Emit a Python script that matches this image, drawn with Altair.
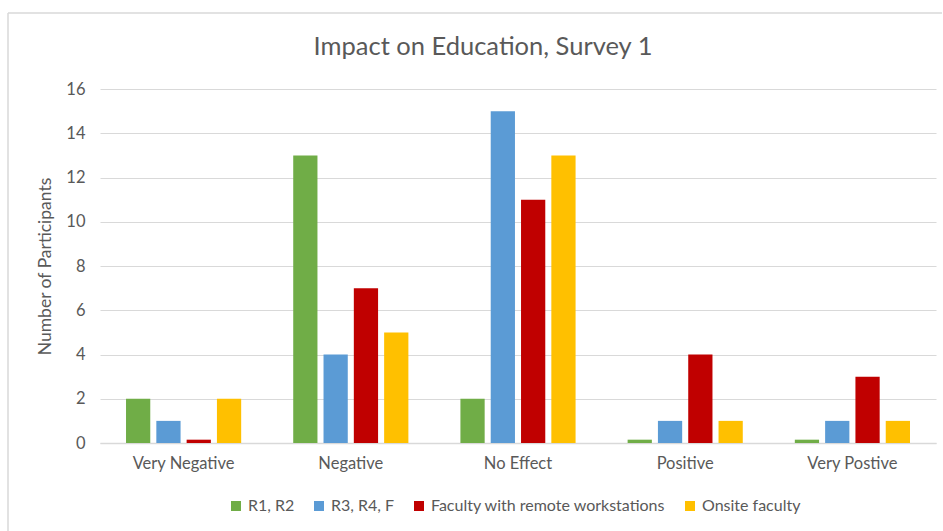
import altair as alt
import pandas as pd

# Survey responses per rating category
categories = ["Very Negative", "Negative", "No Effect", "Positive", "Very Postive"]
groups = ["R1, R2", "R3, R4, F", "Faculty with remote workstations", "Onsite faculty"]
r1_r2 = [2, 13, 2, 0.15, 0.15]
r3_r4_f = [1, 4, 15, 1, 1]
faculty_remote = [0.15, 7, 11, 4, 3]
onsite_faculty = [2, 5, 13, 1, 1]
colors = ["#70AD47", "#5B9BD5", "#C00000", "#FFC000"]
chart_title = ["Impact on Education, Survey 1"]

series = [r1_r2, r3_r4_f, faculty_remote, onsite_faculty]
rows = []
for g, vals in zip(groups, series):
    for c, v in zip(categories, vals):
        rows.append({"Rating": c, "Group": g, "Count": v})
df = pd.DataFrame(rows)

FONT = "Lato"
TEXT = "#595959"
GRID = "#d9d9d9"

bars = alt.Chart(df).mark_bar().encode(
    x=alt.X(
        "Rating:N",
        sort=categories,
        scale=alt.Scale(paddingInner=0.275, paddingOuter=0.1375),
        axis=alt.Axis(
            title=None, labelAngle=0, domainColor=GRID, domainWidth=1.5,
            ticks=False, labelFontSize=16.5, labelColor=TEXT, labelPadding=12,
            grid=False,
        ),
    ),
    xOffset=alt.XOffset(
        "Group:N", sort=groups,
        scale=alt.Scale(paddingInner=0.2, paddingOuter=0.1),
    ),
    y=alt.Y(
        "Count:Q",
        scale=alt.Scale(domain=[0, 16], nice=False),
        axis=alt.Axis(
            values=list(range(0, 17, 2)), title="Number of Participants",
            titleFontSize=17.5, titleFontWeight="normal", titleColor=TEXT,
            titlePadding=11, labelFontSize=16.5, labelColor=TEXT,
            labelPadding=15, domain=False, ticks=False,
            gridColor=GRID, gridWidth=1.2,
        ),
    ),
    color=alt.Color(
        "Group:N", sort=groups,
        scale=alt.Scale(domain=groups, range=colors),
        legend=alt.Legend(
            title=None, orient="none", direction="horizontal",
            legendX=128, legendY=409, symbolType="square", symbolSize=100,
            symbolStrokeWidth=0, labelFontSize=16, labelColor=TEXT,
            columnPadding=16, labelOffset=4, labelLimit=500,
        ),
    ),
)

# Chart heading drawn as a text mark above the plot area
heading = alt.Chart(pd.DataFrame({"t": chart_title})).mark_text(
    fontSize=25.5, font=FONT, color=TEXT, align="center", baseline="middle"
).encode(text="t:N", x=alt.value(383), y=alt.value(-42))

# Light chart-area frame along the top and left edges
frame_df = pd.DataFrame({"k": [0]})
top_edge = alt.Chart(frame_df).mark_rule(color=GRID, strokeWidth=1.5).encode(
    x=alt.value(-92), x2=alt.value(842), y=alt.value(-76)
)
left_edge = alt.Chart(frame_df).mark_rule(color=GRID, strokeWidth=1.5).encode(
    x=alt.value(-92), y=alt.value(-76), y2=alt.value(460)
)

chart = alt.layer(top_edge, left_edge, heading, bars).properties(
    width=836,
    height=354,
    autosize=alt.AutoSizeParams(type="none"),
    padding={"left": 100, "top": 89, "right": 7, "bottom": 88},
).configure(font=FONT).configure_view(stroke=None)

chart.save("out.html", embed_options={"renderer": "svg", "actions": False})
